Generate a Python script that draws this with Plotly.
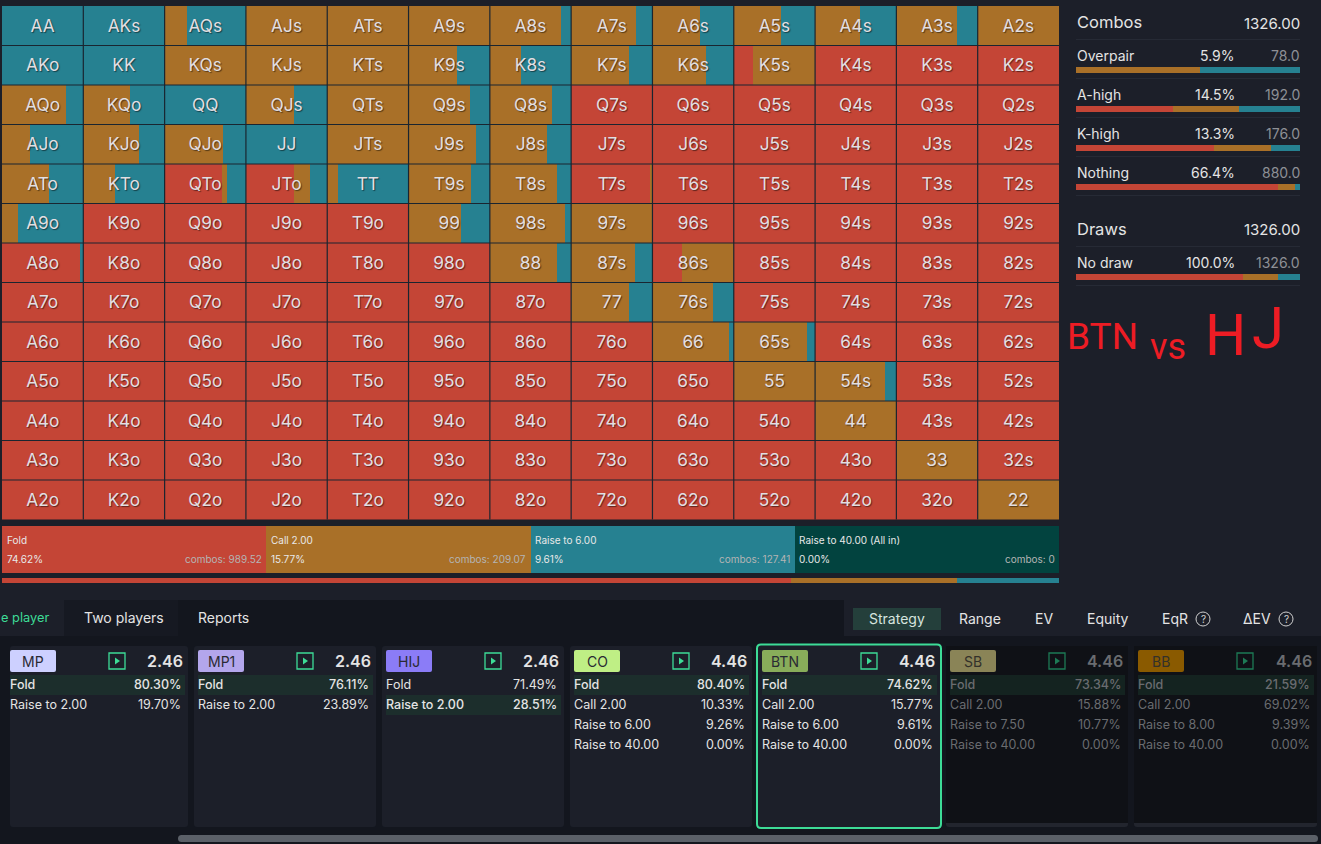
import plotly.graph_objects as go

W = 1321
H = 844
FONT = "Inter"

BG = "#1c1f29"
BG_DARK = "#13161e"
RED = "#c44536"
ORANGE = "#a97028"
TEAL = "#268191"
ALLIN = "#02433f"
GREEN = "#3ddc97"

RANKS = ["A", "K", "Q", "J", "T", "9", "8", "7", "6", "5", "4", "3", "2"]

# strategy per hand, in percent
FOLD = [
    [0, 0, 0, 0, 0, 0, 0, 0, 0, 0, 0, 0, 0],
    [0, 0, 0, 0, 0, 0, 0, 0, 0, 24, 100, 100, 100],
    [0, 0, 0, 0, 0, 0, 0, 100, 100, 100, 100, 100, 100],
    [0, 0, 0, 0, 0, 0, 0, 100, 100, 100, 100, 100, 100],
    [0, 0, 70, 59, 0, 0, 0, 98, 100, 100, 100, 100, 100],
    [0, 100, 100, 100, 100, 0, 0, 0, 100, 100, 100, 100, 100],
    [96, 100, 100, 100, 100, 100, 0, 0, 36, 100, 100, 100, 100],
    [100, 100, 100, 100, 100, 100, 100, 0, 0, 100, 100, 100, 100],
    [100, 100, 100, 100, 100, 100, 100, 100, 0, 0, 100, 100, 100],
    [100, 100, 100, 100, 100, 100, 100, 100, 100, 0, 0, 100, 100],
    [100, 100, 100, 100, 100, 100, 100, 100, 100, 100, 0, 100, 100],
    [100, 100, 100, 100, 100, 100, 100, 100, 100, 100, 100, 0, 100],
    [100, 100, 100, 100, 100, 100, 100, 100, 100, 100, 100, 100, 0],
]
CALL = [
    [0, 0, 27.5, 100, 100, 100, 87, 80, 58, 58, 55, 75, 100],
    [0, 0, 100, 100, 100, 59, 38, 71, 66, 76, 0, 0, 0],
    [79, 57, 0, 59, 100, 75, 77, 0, 0, 0, 0, 0, 0],
    [34, 69, 72, 0, 100, 83, 70, 0, 0, 0, 0, 0, 0],
    [58, 39, 7, 20, 13, 77, 82, 2, 0, 0, 0, 0, 0],
    [20, 0, 0, 0, 0, 64, 92, 100, 0, 0, 0, 0, 0],
    [0, 0, 0, 0, 0, 0, 82, 79, 64, 0, 0, 0, 0],
    [0, 0, 0, 0, 0, 0, 0, 71, 75, 0, 0, 0, 0],
    [0, 0, 0, 0, 0, 0, 0, 0, 94, 90, 0, 0, 0],
    [0, 0, 0, 0, 0, 0, 0, 0, 0, 100, 86, 0, 0],
    [0, 0, 0, 0, 0, 0, 0, 0, 0, 0, 100, 0, 0],
    [0, 0, 0, 0, 0, 0, 0, 0, 0, 0, 0, 100, 0],
    [0, 0, 0, 0, 0, 0, 0, 0, 0, 0, 0, 0, 100],
]
RAISE = [
    [100, 100, 72.5, 0, 0, 0, 13, 20, 42, 42, 45, 25, 0],
    [100, 100, 0, 0, 0, 41, 62, 29, 34, 0, 0, 0, 0],
    [21, 43, 100, 41, 0, 25, 23, 0, 0, 0, 0, 0, 0],
    [66, 31, 28, 100, 0, 17, 30, 0, 0, 0, 0, 0, 0],
    [42, 61, 23, 21, 87, 23, 18, 0, 0, 0, 0, 0, 0],
    [80, 0, 0, 0, 0, 36, 8, 0, 0, 0, 0, 0, 0],
    [4, 0, 0, 0, 0, 0, 18, 21, 0, 0, 0, 0, 0],
    [0, 0, 0, 0, 0, 0, 0, 29, 25, 0, 0, 0, 0],
    [0, 0, 0, 0, 0, 0, 0, 0, 6, 10, 0, 0, 0],
    [0, 0, 0, 0, 0, 0, 0, 0, 0, 0, 14, 0, 0],
    [0, 0, 0, 0, 0, 0, 0, 0, 0, 0, 0, 0, 0],
    [0, 0, 0, 0, 0, 0, 0, 0, 0, 0, 0, 0, 0],
    [0, 0, 0, 0, 0, 0, 0, 0, 0, 0, 0, 0, 0],
]

# action summary under the grid
ACTION_NAMES = ["Fold", "Call 2.00", "Raise to 6.00", "Raise to 40.00 (All in)"]
ACTION_PCT = [74.62, 15.77, 9.61, 0.0]
ACTION_COMBOS = ["989.52", "209.07", "127.41", "0"]
ACTION_COLORS = [RED, ORANGE, TEAL, ALLIN]
ACTION_BOX_SHARE = [1, 1, 1, 1]

# right panel
COMBO_NAMES = ["Overpair", "A-high", "K-high", "Nothing"]
COMBO_PCT = ["5.9%", "14.5%", "13.3%", "66.4%"]
COMBO_COUNT = ["78.0", "192.0", "176.0", "880.0"]
COMBO_FOLD = [0, 43.3, 61.6, 90.2]
COMBO_CALL = [55.4, 29.5, 25.4, 7.7]
COMBO_RAISE = [44.6, 27.2, 13.0, 2.1]
DRAW_SPLIT = [74.62, 15.77, 9.61]

# player cards
PLAYERS = ["MP", "MP1", "HIJ", "CO", "BTN", "SB", "BB"]
STACKS = ["2.46", "2.46", "2.46", "4.46", "4.46", "4.46", "4.46"]
BADGES = ["#cdd0ff", "#b3a6ec", "#8b7cf7", "#bfef85", "#88ad5a", "#8a8457", "#8a5a00"]
CARD_ACTIONS = [
    ["Fold", "Raise to 2.00"],
    ["Fold", "Raise to 2.00"],
    ["Fold", "Raise to 2.00"],
    ["Fold", "Call 2.00", "Raise to 6.00", "Raise to 40.00"],
    ["Fold", "Call 2.00", "Raise to 6.00", "Raise to 40.00"],
    ["Fold", "Call 2.00", "Raise to 7.50", "Raise to 40.00"],
    ["Fold", "Call 2.00", "Raise to 8.00", "Raise to 40.00"],
]
CARD_VALUES = [
    ["80.30%", "19.70%"],
    ["76.11%", "23.89%"],
    ["71.49%", "28.51%"],
    ["80.40%", "10.33%", "9.26%", "0.00%"],
    ["74.62%", "15.77%", "9.61%", "0.00%"],
    ["73.34%", "15.88%", "10.77%", "0.00%"],
    ["21.59%", "69.02%", "9.39%", "0.00%"],
]
CARD_TOP_ROW = [0, 0, 1, 0, 0, 0, 0]
CARD_LEFT = [10, 194, 382, 570, 758, 946, 1134]
CARD_RIGHT = [188, 376, 564, 752, 940, 1128, 1317]

LEFT_TABS = ["Two players", "Reports"]
RIGHT_TABS = ["Strategy", "Range", "EV", "Equity", "EqR", "ΔEV"]


def px(x):
    return x / W


def py(y):
    return 1 - y / H


shapes = []
annotations = []
traces = []
axes = {}


def txt(x, y, s, size=13, color="#e4e4e4", anchor="left", weight=400, family=FONT):
    # annotations keep about 1px of padding on the anchored side
    if anchor == "left":
        x -= 1
    elif anchor == "right":
        x += 1
    annotations.append(dict(
        x=px(x), y=py(y), xref="paper", yref="paper", text=s, showarrow=False,
        xanchor=anchor, yanchor="middle", borderpad=0,
        font=dict(family=family, size=size, color=color, weight=weight),
    ))


def rect(x0, y0, x1, y1, fill, line=None, lw=0):
    shapes.append(dict(
        type="rect", xref="paper", yref="paper", x0=px(x0), x1=px(x1), y0=py(y0), y1=py(y1),
        fillcolor=fill, line=dict(color=line, width=lw), layer="below",
    ))


def rrect(x0, y0, x1, y1, r, fill, line=None, lw=0):
    p = (
        f"M {px(x0 + r)} {py(y0)} L {px(x1 - r)} {py(y0)} Q {px(x1)} {py(y0)} {px(x1)} {py(y0 + r)} "
        f"L {px(x1)} {py(y1 - r)} Q {px(x1)} {py(y1)} {px(x1 - r)} {py(y1)} "
        f"L {px(x0 + r)} {py(y1)} Q {px(x0)} {py(y1)} {px(x0)} {py(y1 - r)} "
        f"L {px(x0)} {py(y0 + r)} Q {px(x0)} {py(y0)} {px(x0 + r)} {py(y0)} Z"
    )
    shapes.append(dict(
        type="path", xref="paper", yref="paper", path=p, fillcolor=fill,
        line=dict(color=line, width=lw), layer="below",
    ))


def strip(n, x0, x1, y0, y1, values, colors):
    # one row of stacked segments on its own axis pair
    axes[f"xaxis{n}"] = dict(domain=[px(x0), px(x1)], range=[0, sum(values)], visible=False,
                             anchor=f"y{n}", fixedrange=True)
    axes[f"yaxis{n}"] = dict(domain=[py(y1), py(y0)], range=[-0.5, 0.5], visible=False,
                             anchor=f"x{n}", fixedrange=True)
    base = 0
    for v, c in zip(values, colors):
        traces.append(go.Bar(x=[v], y=[0], base=[base], width=1, orientation="h",
                             marker=dict(color=c, line=dict(width=0)),
                             xaxis=f"x{n}", yaxis=f"y{n}", hoverinfo="skip"))
        base += v


# page blocks
rect(0, 600, W, H, BG_DARK)
rect(0, 600, 64, 636, BG)
rect(64, 600, 178, 636, "#161922")
rect(844, 600, W, 636, BG)
rect(853, 608, 941, 630, "#243f3b")
rrect(178, 835, 1318, 842, 3.5, "#5b6068")

# hand grid
cells_x, cells_y, labels = [], [], []
for r in range(13):
    for c in range(13):
        cells_x.append(c + 0.5)
        cells_y.append(r + 0.04)
        if r == c:
            labels.append(RANKS[r] + RANKS[c])
        elif c > r:
            labels.append(RANKS[r] + RANKS[c] + "s")
        else:
            labels.append(RANKS[c] + RANKS[r] + "o")

for values, color, earlier in [(FOLD, RED, None), (CALL, ORANGE, FOLD), (RAISE, TEAL, "both")]:
    xs, ys, bases = [], [], []
    for r in range(13):
        for c in range(13):
            offset = 0
            if earlier == "both":
                offset = FOLD[r][c] + CALL[r][c]
            elif earlier is not None:
                offset = earlier[r][c]
            xs.append(values[r][c] / 100)
            ys.append(r)
            bases.append(c + offset / 100)
    traces.append(go.Bar(x=xs, y=ys, base=bases, width=1, orientation="h",
                         marker=dict(color=color, line=dict(width=0)), hoverinfo="skip"))

traces.append(go.Scatter(
    x=cells_x, y=cells_y, text=labels, mode="text", hoverinfo="skip", cliponaxis=False,
    textfont=dict(family=FONT, size=17.3, color="#e2dfe2", shadow="1px 1px 1px rgba(0,0,0,0.5)"),
))

for i in range(1, 13):
    shapes.append(dict(type="line", xref="x", yref="paper", x0=i, x1=i, y0=py(519.5), y1=py(6),
                       line=dict(color="#1a2530", width=1.2), layer="above"))
    shapes.append(dict(type="line", xref="paper", yref="y", x0=px(2), x1=px(1059), y0=i - 0.5, y1=i - 0.5,
                       line=dict(color="#1a2530", width=1.2), layer="above"))

# action boxes and the thin split bar
strip(2, 2, 1059, 526, 573, ACTION_BOX_SHARE, ACTION_COLORS)
strip(3, 2, 1059, 578, 583, ACTION_PCT, ACTION_COLORS)
box_w = 1057 / 4
for i, name in enumerate(ACTION_NAMES):
    x0 = 2 + i * box_w
    txt(x0 + 4.5, 540, name, size=10, color="#e8e8e8")
    txt(x0 + 4.5, 558.7, f"{ACTION_PCT[i]:.2f}%", size=10, color="#e8e8e8")
    txt(x0 + box_w - 4.5, 558.7, "combos: " + ACTION_COMBOS[i], size=10, color="#b4b4b4", anchor="right")

# right panel
txt(1076.5, 22, "Combos", size=16.5)
txt(1300, 23, "1326.00", size=15, anchor="right")
for i, name in enumerate(COMBO_NAMES):
    y = 56 + i * 39
    txt(1076.5, y - 0.7, name, size=14)
    txt(1235, y - 0.7, COMBO_PCT[i], size=14, anchor="right")
    txt(1300, y - 0.7, COMBO_COUNT[i], size=14, color="#8e9096", anchor="right")
    strip(4 + i, 1076, 1300, y + 11, y + 17, [COMBO_FOLD[i], COMBO_CALL[i], COMBO_RAISE[i]], [RED, ORANGE, TEAL])
for y in [39, 78, 117, 156, 195, 246, 285]:
    rect(1076, y, 1300, y + 1, "#262a35")
txt(1076.5, 229, "Draws", size=16.5)
txt(1300, 230, "1326.00", size=15, anchor="right")
txt(1076.5, 262.3, "No draw", size=14)
txt(1235, 262.3, "100.0%", size=14, anchor="right")
txt(1300, 262.3, "1326.0", size=14, color="#8e9096", anchor="right")
strip(8, 1076, 1300, 274, 280, DRAW_SPLIT, [RED, ORANGE, TEAL])

# the red scribble on the screenshot
for x, y, s, size in [
    (1067, 336, "BTN", 37), (1150, 347, "vs", 36),
    (1205, 335, "H", 58), (1252, 328, "J", 58),
]:
    txt(x, y, s, size=size, color="#ed1c24", family="Roboto", weight=400)

# tabs
txt(1, 617.2, "e player", size=12.8, color=GREEN)
txt(84, 617.2, LEFT_TABS[0], size=14)
txt(198, 617.2, LEFT_TABS[1], size=14)
for name, x in zip(RIGHT_TABS, [897, 980, 1044, 1108, 1175, 1257]):
    txt(x, 618, name, size=14, color="#d6e4df" if name == "Strategy" else "#e4e4e4", anchor="center")
for x in [1203, 1286]:
    shapes.append(dict(type="circle", xref="paper", yref="paper", x0=px(x - 7), x1=px(x + 7),
                       y0=py(626), y1=py(612), line=dict(color="#d0d0d0", width=1), layer="above"))
    txt(x, 618.5, "?", size=10, color="#d0d0d0", anchor="center")

# player cards
for i, name in enumerate(PLAYERS):
    x0, x1 = CARD_LEFT[i], CARD_RIGHT[i]
    dim = name in ("SB", "BB")
    selected = name == "BTN"
    fg = "#6a6c70" if dim else "#e4e4e4"
    if dim:
        rrect(x0, 646, x1, 827, 3, "#22252e")
        rect(x0, 646, x1, 823, "#0f1116")
    elif selected:
        rrect(x0 - 1, 644.5, x1 + 1, 828, 4, BG, GREEN, 2)
    else:
        rrect(x0, 646, x1, 827, 3, BG)

    # the first card is cut off on its left side, so its content sits flush
    bx = x0 + (4 if i > 0 else 0)
    rrect(bx, 650, bx + 46, 672, 2, BADGES[i])
    txt(bx + 23, 661, name, size=14, color="#2a2a33" if not dim else "#33312a", anchor="center")

    ix = bx + 99
    icon = "#1d7a55" if dim else GREEN
    shapes.append(dict(type="rect", xref="paper", yref="paper", x0=px(ix), x1=px(ix + 16), y0=py(669), y1=py(653),
                       line=dict(color=icon, width=1.3), layer="below"))
    shapes.append(dict(type="path", xref="paper", yref="paper", fillcolor=icon, line=dict(width=0), layer="below",
                       path=f"M {px(ix + 6)} {py(657.5)} L {px(ix + 11)} {py(661)} L {px(ix + 6)} {py(664.5)} Z"))
    txt(x1 - 5, 661, STACKS[i], size=16, color=fg, anchor="right", weight=600)

    rx1 = x1 - 4
    for j, (action, value) in enumerate(zip(CARD_ACTIONS[i], CARD_VALUES[i])):
        y = 684 + j * 20
        top = j == CARD_TOP_ROW[i]
        if top:
            rect(bx, y - 9, rx1 + 1, y + 11, "#142320" if dim else "#1c2e2c")
        w = 500 if top else 400
        txt(bx, y, action, size=12.5, color=fg, weight=w)
        txt(rx1 - 3, y, value, size=12.5, color=fg, anchor="right", weight=w)

fig = go.Figure(data=traces)
fig.update_layout(
    width=W, height=H, margin=dict(l=0, r=0, t=0, b=0, pad=0),
    paper_bgcolor=BG, plot_bgcolor="rgba(0,0,0,0)",
    barmode="overlay", bargap=0, showlegend=False,
    shapes=shapes, annotations=annotations,
    xaxis=dict(domain=[px(2), px(1059)], range=[0, 13], visible=False, fixedrange=True),
    yaxis=dict(domain=[py(519.5), py(6)], range=[12.5, -0.5], visible=False, fixedrange=True),
    **axes,
)

fig.write_html("out.html", config=dict(displayModeBar=False),
               post_script="document.body.style.margin='0';document.body.style.overflow='hidden';")
